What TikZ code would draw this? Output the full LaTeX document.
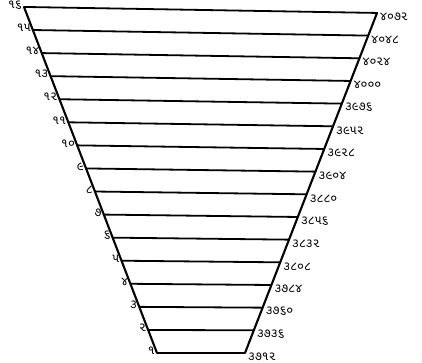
\documentclass[tikz,border=0pt]{standalone}
\usepackage{fontspec}
\newfontfamily\guj[Script=Gujarati]{Noto Sans Gujarati UI}
\begin{document}
\begin{tikzpicture}[x=1pt,y=-1pt,
  rung/.style={line width=1.8pt},
  edge/.style={line width=2.1pt, line cap=round},
  lab/.style={font=\guj\fontsize{12.5}{12.5}\selectfont, inner sep=0pt}]
\useasboundingbox (0,0) rectangle (422,363);
\foreach \i/\lt/\rt in {1/૧/૩૭૧૨,2/૨/૩૭૩૬,3/૩/૩૭૬૦,4/૪/૩૭૮૪,5/૫/૩૮૦૮,6/૬/૩૮૩૨,7/૭/૩૮૫૬,8/૮/૩૮૮૦,9/૯/૩૯૦૪,10/૧૦/૩૯૨૮,11/૧૧/૩૯૫૨,12/૧૨/૩૯૭૬,13/૧૩/૪૦૦૦,14/૧૪/૪૦૨૪,15/૧૫/૪૦૪૮,16/૧૬/૪૦૭૨}{
  \pgfmathsetmacro\yl{353-(\i-1)*23.07}
  \pgfmathsetmacro\yr{\yl+6*(\i-1)/15}
  \pgfmathsetmacro\xl{24+(133/346)*(\yl-7)}
  \pgfmathsetmacro\xr{377-(132/340)*(\yr-13)}
  \coordinate (L\i) at (\xl,\yl);
  \coordinate (R\i) at (\xr,\yr);
  \draw[rung] (L\i) -- (R\i);
  \node[lab, anchor=east] (l\i) at ([xshift=-2pt,yshift=2pt]L\i) {\lt};
  \node[lab, anchor=west] (r\i) at ([xshift=3pt,yshift=-4pt]R\i) {\rt};
}
\draw[edge] (L16) -- (L1);
\draw[edge] (R16) -- (R1);
\end{tikzpicture}
\end{document}
